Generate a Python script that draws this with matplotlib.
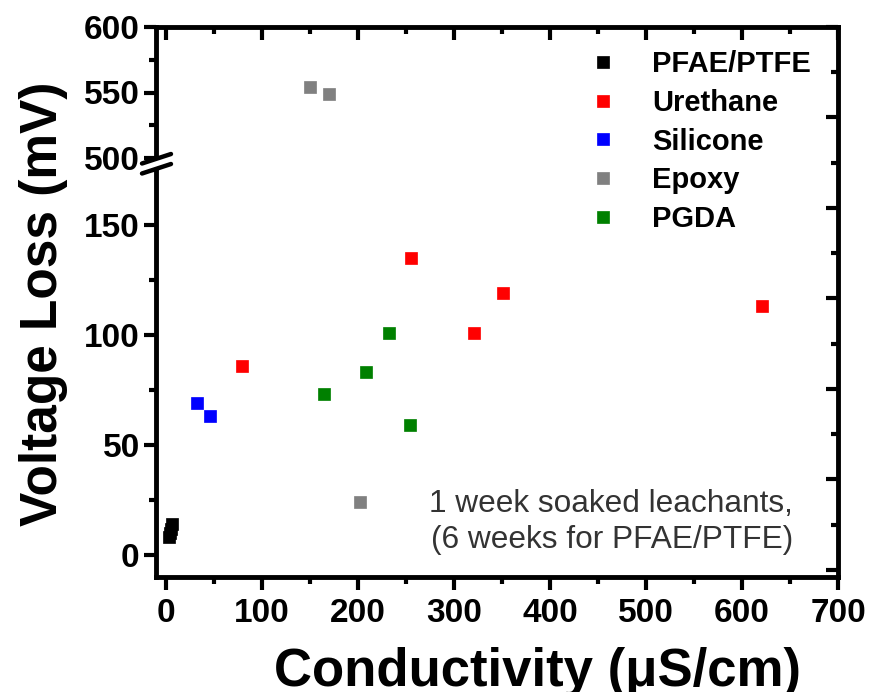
import matplotlib
matplotlib.use("Agg")
import matplotlib.pyplot as plt
from matplotlib.ticker import MultipleLocator, FixedLocator
from matplotlib.lines import Line2D
from matplotlib.patches import Polygon

plt.rcParams['font.family'] = ['Liberation Sans', 'DejaVu Sans']

# ---- data: conductivity (uS/cm) vs voltage loss (mV) ----
pfae_x = [3, 4, 5, 6]
pfae_y = [8, 10, 12, 14]
urethane_x = [79, 255, 321, 351, 621]
urethane_y = [86, 135, 101, 119, 113]
silicone_x = [32, 46]
silicone_y = [69, 63]
epoxy_x = [150, 170, 202]
epoxy_y = [554, 549, 24]
pgda_x = [165, 208, 232, 254]
pgda_y = [73, 83, 101, 59]

series = [
    ("PFAE/PTFE", pfae_x, pfae_y, "#000000"),
    ("Urethane", urethane_x, urethane_y, "#ff0000"),
    ("Silicone", silicone_x, silicone_y, "#0000ff"),
    ("Epoxy", epoxy_x, epoxy_y, "#808080"),
    ("PGDA", pgda_x, pgda_y, "#008000"),
]

x_ticks = [0, 100, 200, 300, 400, 500, 600, 700]
low_yticks = [0, 50, 100, 150]
high_yticks = [500, 550, 600]

W, H, DPI = 874, 692, 100
fig = plt.figure(figsize=(W / DPI, H / DPI), dpi=DPI)


def fx(px):
    return px / W


def fy(py):
    return 1 - py / H


L, R = 156.4, 838.0
ax_lo = fig.add_axes([fx(L), fy(577), (R - L) / W, (577 - 161) / H])
ax_hi = fig.add_axes([fx(L), fy(158), (R - L) / W, (158 - 27) / H])
ax_fr = fig.add_axes([fx(L), fy(577), (R - L) / W, (577 - 27) / H])
ax_fr.set_zorder(5)
ax_fr.patch.set_visible(False)

LW = 3.5
MAJ, MIN = 9, 5
TW = 3.0
TICK_FS = 24

handles = []
for name, xs, ys, col in series:
    for ax in (ax_lo, ax_hi):
        h, = ax.plot(xs, ys, ls='none', marker='s', ms=8.5, mfc=col,
                     mec=col, mew=0.5, label=name, clip_on=True)
    handles.append(h)

for ax in (ax_lo, ax_hi, ax_fr):
    ax.set_xlim(-10, 700)
    for s in ax.spines.values():
        s.set_linewidth(LW)
        s.set_visible(False)

ax_lo.set_ylim(-10, 179)
ax_hi.set_ylim(500, 600)
ax_fr.set_ylim(-0.155, 12.0)

# lower panel: left + bottom, outward ticks
ax_lo.spines['left'].set_visible(True)
ax_lo.spines['bottom'].set_visible(True)
ax_lo.xaxis.set_major_locator(FixedLocator(x_ticks))
ax_lo.xaxis.set_minor_locator(MultipleLocator(50))
ax_lo.yaxis.set_major_locator(FixedLocator(low_yticks))
ax_lo.yaxis.set_minor_locator(FixedLocator([25, 75, 125, 175]))
ax_lo.tick_params(axis='both', which='major', direction='out', length=MAJ,
                  width=TW, labelsize=TICK_FS)
ax_lo.tick_params(axis='both', which='minor', direction='out', length=MIN,
                  width=TW)
ax_lo.tick_params(axis='x', which='major', pad=6)
ax_lo.tick_params(axis='y', which='major', pad=3)
for lab in ax_lo.get_xticklabels() + ax_lo.get_yticklabels():
    lab.set_fontweight('bold')

# upper panel: left spine only
ax_hi.spines['left'].set_visible(True)
ax_hi.xaxis.set_major_locator(FixedLocator([]))
ax_hi.xaxis.set_minor_locator(FixedLocator([]))
ax_hi.yaxis.set_major_locator(FixedLocator(high_yticks))
ax_hi.yaxis.set_minor_locator(FixedLocator([525, 575]))
ax_hi.tick_params(axis='y', which='major', direction='out', length=MAJ,
                  width=TW, labelsize=TICK_FS, pad=3)
ax_hi.tick_params(axis='y', which='minor', direction='out', length=MIN,
                  width=TW)
for lab in ax_hi.get_yticklabels():
    lab.set_fontweight('bold')

# frame: top + right spines with inward ticks
ax_fr.spines['top'].set_visible(True)
ax_fr.spines['right'].set_visible(True)
ax_fr.xaxis.set_ticks_position('top')
ax_fr.yaxis.set_ticks_position('right')
ax_fr.xaxis.set_major_locator(FixedLocator(x_ticks))
ax_fr.xaxis.set_minor_locator(MultipleLocator(50))
ax_fr.yaxis.set_major_locator(MultipleLocator(2))
ax_fr.yaxis.set_minor_locator(MultipleLocator(1))
ax_fr.tick_params(axis='both', which='major', direction='in', length=MAJ,
                  width=TW, labeltop=False, labelright=False,
                  labelbottom=False, labelleft=False)
ax_fr.tick_params(axis='both', which='minor', direction='in', length=MIN,
                  width=TW)

# axis break symbol on the left spine
fig.add_artist(Polygon([(fx(140), fy(165)), (fx(172), fy(155)),
                        (fx(172), fy(165)), (fx(140), fy(175))],
                       closed=True, transform=fig.transFigure,
                       facecolor='white', edgecolor='none', zorder=10))
for y0, y1 in ((163.5, 154), (173.5, 164)):
    fig.add_artist(Line2D([fx(142), fx(171)], [fy(y0), fy(y1)],
                          transform=fig.transFigure, color='black', lw=3.2,
                          solid_capstyle='round', zorder=11))

# axis titles
fig.text(fx(538), fy(686), "Conductivity (\u03bcS/cm)", ha='center',
         va='baseline', fontsize=38, fontweight='bold')
fig.text(fx(44), fy(304), "Voltage Loss (mV)", rotation=90, ha='center',
         va='center', fontsize=37, fontweight='bold')

# note
fig.text(fx(793), fy(522), "1 week soaked leachants,\n(6 weeks for PFAE/PTFE)",
         ha='right', va='center', multialignment='right', fontsize=22.8,
         color='#333333', linespacing=1.3)

leg = fig.legend(handles=handles, loc='upper left',
                 bbox_to_anchor=(fx(588), fy(50)), frameon=False,
                 prop={'size': 21, 'weight': 'bold'}, handlelength=1.0,
                 handletextpad=1.2, labelspacing=0.37, borderpad=0,
                 borderaxespad=0)

fig.savefig("out.png", dpi=DPI)
